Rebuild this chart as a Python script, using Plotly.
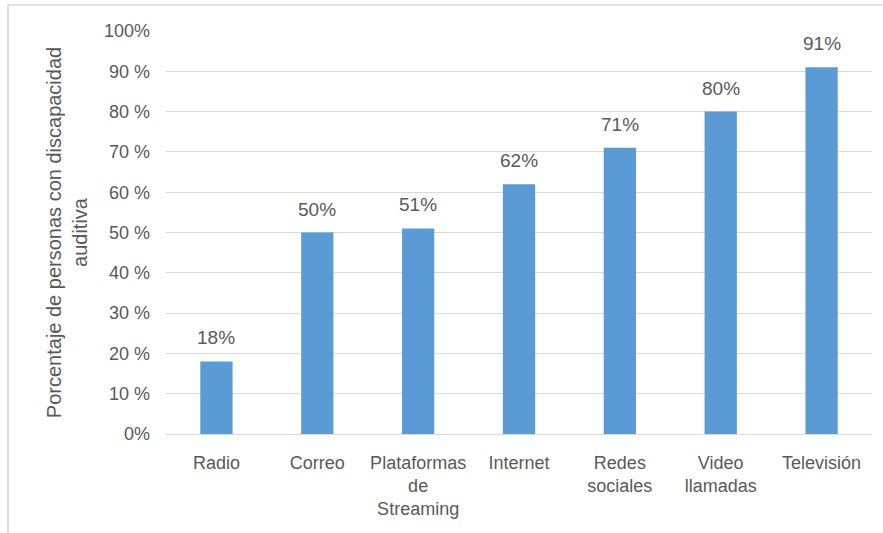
import plotly.graph_objects as go

categories = ["Radio", "Correo", "Plataformas<br>de<br>Streaming", "Internet",
              "Redes<br>sociales", "Video<br>llamadas", "Televisión"]
values = [0.18, 0.50, 0.51, 0.62, 0.71, 0.80, 0.91]
tick_vals = [i / 10 for i in range(11)]
tick_text = [f"{i*10}%" if i in (0, 10) else f"{i*10} %" for i in range(11)]

FONT = "Liberation Sans, Arial, sans-serif"
GREY = "#595959"

fig = go.Figure(go.Bar(
    x=categories, y=values,
    marker=dict(color="#5B9BD5", line=dict(width=0)),
    hoverinfo="x+y",
))

annotations = [
    dict(x=c, y=v, xref="x", yref="y", text=f"{round(v*100)}%",
         showarrow=False, yanchor="bottom", yshift=11,
         font=dict(family=FONT, size=19, color=GREY))
    for c, v in zip(categories, values)
]

fig.update_layout(
    width=883, height=533,
    margin=dict(l=166, r=11, t=31, b=99),
    paper_bgcolor="white", plot_bgcolor="white",
    bargap=0.68,
    showlegend=False,
    font=dict(family=FONT, color=GREY, size=18),
    annotations=annotations,
    xaxis=dict(showgrid=False, showline=True, linecolor="#d9d9d9", linewidth=1,
               ticks="", tickfont=dict(size=18, color=GREY), ticklabelstandoff=12),
    yaxis=dict(range=[0, 1], tickvals=tick_vals, ticktext=tick_text,
               showgrid=True, gridcolor="#d9d9d9", gridwidth=1,
               zeroline=False, showline=False, ticks="",
               tickfont=dict(size=18, color=GREY), ticklabelstandoff=15,
               title=dict(text="Porcentaje de personas con discapacidad<br>auditiva",
                          font=dict(size=20, color=GREY), standoff=10)),
    shapes=[
        dict(type="line", xref="paper", yref="paper",
             x0=(8 - 166) / 706, x1=(8 - 166) / 706, y0=(434 - 5) / 403, y1=(434 - 533) / 403,
             line=dict(color="#d0d0d0", width=1.5)),
        dict(type="line", xref="paper", yref="paper",
             x0=(8 - 166) / 706, x1=(883 - 166) / 706, y0=(434 - 5) / 403, y1=(434 - 5) / 403,
             line=dict(color="#d9d9d9", width=1.5)),
    ],
)

fig.write_html("out.html")
